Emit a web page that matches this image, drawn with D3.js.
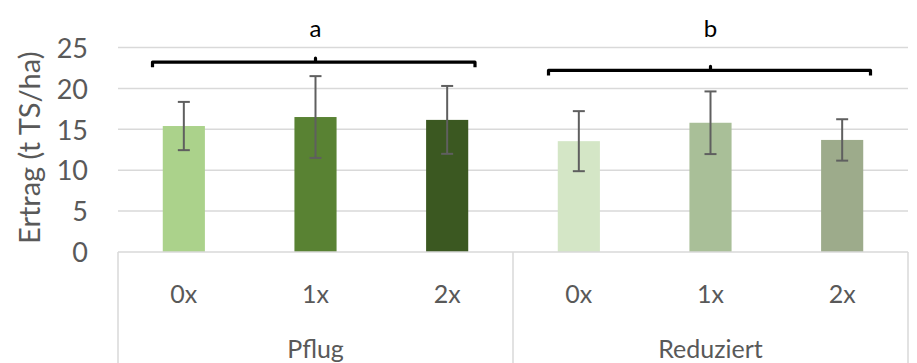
<!DOCTYPE html>
<html>
<head>
<meta charset="utf-8">
<script src="https://cdn.jsdelivr.net/npm/d3@7"></script>
<style>
  body { margin: 0; background: #fff; }
  svg { font-family: Lato, "Open Sans", sans-serif; }
</style>
</head>
<body>
<div class="chart"></div>
<script>
// 데이터
const groups = ["Pflug", "Reduziert"];
const treatments = ["0x", "1x", "2x"];
const pflugValues = [15.4, 16.5, 16.15];
const pflugErrors = [2.95, 5.0, 4.15];
const reduziertValues = [13.55, 15.8, 13.7];
const reduziertErrors = [3.67, 3.83, 2.53];
const groupLetters = ["a", "b"];
const yTicks = [0, 5, 10, 15, 20, 25];

const colors = {
  Pflug: ["#abd28b", "#598233", "#3b5821"],
  Reduziert: ["#d4e6c6", "#a9bf98", "#9dab8b"]
};

const width = 917, height = 363;
const plotLeft = 118, plotRight = 908, plotTop = 47.5, plotBottom = 252;

const svg = d3
  .select(".chart")
  .append("svg")
  .attr("width", width)
  .attr("height", height);

const rows = [];
groups.forEach((g, gi) => {
  const vals = gi === 0 ? pflugValues : reduziertValues;
  const errs = gi === 0 ? pflugErrors : reduziertErrors;
  treatments.forEach((t, ti) => {
    rows.push({ group: g, treat: t, value: vals[ti], err: errs[ti], color: colors[g][ti] });
  });
});

const y = d3.scaleLinear().domain([0, 25]).range([plotBottom, plotTop]);
const x0 = d3.scaleBand().domain(groups).range([plotLeft, plotRight]);
const x1 = d3
  .scaleBand()
  .domain(treatments)
  .range([0, x0.bandwidth()])
  .paddingInner(0.68)
  .paddingOuter(0.34);

// 그리드
svg
  .append("g")
  .selectAll("line")
  .data(yTicks.filter(d => d > 0))
  .enter()
  .append("line")
  .attr("x1", plotLeft)
  .attr("x2", plotRight)
  .attr("y1", d => y(d))
  .attr("y2", d => y(d))
  .attr("stroke", "#d9d9d9")
  .attr("stroke-width", 1.5);

// Y axis labels
const yAxis = svg
  .append("g")
  .attr("transform", `translate(${plotLeft - 30},0)`)
  .call(d3.axisLeft(y).tickValues(yTicks).tickSize(0).tickPadding(0));
yAxis.select(".domain").remove();
yAxis
  .selectAll("text")
  .attr("font-family", "Lato, sans-serif")
  .attr("font-size", 27)
  .attr("fill", "#595959")
  .attr("dy", "0.36em");

svg
  .append("text")
  .attr("transform", `translate(40,${(plotTop + plotBottom) / 2 - 2}) rotate(-90)`)
  .attr("text-anchor", "middle")
  .attr("font-size", 29)
  .attr("fill", "#595959")
  .text("Ertrag (t TS/ha)");

// 막대
svg
  .selectAll("rect.bar")
  .data(rows)
  .enter()
  .append("rect")
  .attr("class", "bar")
  .attr("x", d => x0(d.group) + x1(d.treat))
  .attr("y", d => y(d.value))
  .attr("width", x1.bandwidth())
  .attr("height", d => y(0) - y(d.value))
  .attr("fill", d => d.color);

// error bars
const eb = svg
  .selectAll("g.err")
  .data(rows)
  .enter()
  .append("g")
  .attr("class", "err")
  .attr("stroke", "#5f5f5f")
  .attr("stroke-width", 2);
const cx = d => x0(d.group) + x1(d.treat) + x1.bandwidth() / 2;
eb.append("line")
  .attr("x1", cx).attr("x2", cx)
  .attr("y1", d => y(d.value + d.err))
  .attr("y2", d => y(d.value - d.err));
eb.append("line")
  .attr("x1", d => cx(d) - 6).attr("x2", d => cx(d) + 6)
  .attr("y1", d => y(d.value + d.err))
  .attr("y2", d => y(d.value + d.err));
eb.append("line")
  .attr("x1", d => cx(d) - 6).attr("x2", d => cx(d) + 6)
  .attr("y1", d => y(d.value - d.err))
  .attr("y2", d => y(d.value - d.err));

// category axis box
const axisG = svg.append("g").attr("stroke", "#d9d9d9").attr("stroke-width", 1.5);
axisG.append("line").attr("x1", plotLeft).attr("x2", plotRight).attr("y1", plotBottom).attr("y2", plotBottom);
axisG
  .selectAll("line.sep")
  .data([plotLeft, ...groups.map(g => x0(g) + x0.bandwidth())])
  .enter()
  .append("line")
  .attr("class", "sep")
  .attr("x1", d => d).attr("x2", d => d)
  .attr("y1", plotBottom).attr("y2", height);

svg
  .selectAll("text.treat")
  .data(rows)
  .enter()
  .append("text")
  .attr("class", "treat")
  .attr("x", cx)
  .attr("y", 303)
  .attr("text-anchor", "middle")
  .attr("font-size", 25)
  .attr("fill", "#595959")
  .text(d => d.treat);

svg
  .selectAll("text.group")
  .data(groups)
  .enter()
  .append("text")
  .attr("class", "group")
  .attr("x", d => x0(d) + x0.bandwidth() / 2)
  .attr("y", 358)
  .attr("text-anchor", "middle")
  .attr("font-size", 25)
  .attr("fill", "#595959")
  .text(d => d);

// brackets (a / b)
const bracketY = [23.2, 22.2];
const bracketSpan = [[152.5, 475], [548.5, 870.5]];
groups.forEach((g, i) => {
  const [bx1, bx2] = bracketSpan[i];
  const by = y(bracketY[i]);
  const mid = x0(g) + x0.bandwidth() / 2;
  svg
    .append("path")
    .attr("d", `M${bx1},${by + 5} L${bx1},${by} L${mid},${by} L${mid},${by - 4} L${mid},${by} L${bx2},${by} L${bx2},${by + 5}`)
    .attr("fill", "none")
    .attr("stroke", "#000")
    .attr("stroke-width", 3.2)
    .attr("stroke-linejoin", "round");
  svg
    .append("text")
    .attr("x", mid)
    .attr("y", 37)
    .attr("text-anchor", "middle")
    .attr("font-size", 24)
    .attr("fill", "#000")
    .text(groupLetters[i]);
});
</script>
</body>
</html>
